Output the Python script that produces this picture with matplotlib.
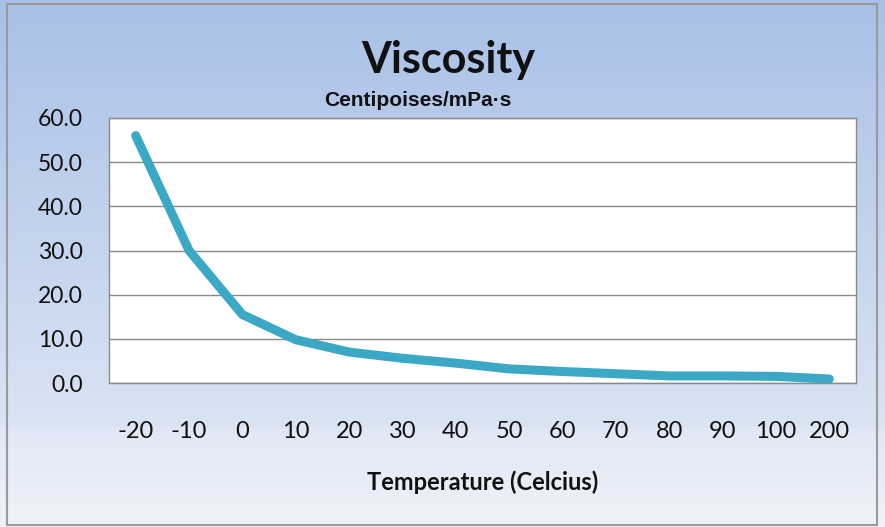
import numpy as np
import matplotlib; matplotlib.use('Agg')
import matplotlib.pyplot as plt
from matplotlib.colors import to_rgb
from matplotlib.patches import Rectangle

# ─── Data ─────────────────────────────────────────────────
temps     = ['-20', '-10', '0', '10', '20', '30', '40', '50', '60', '70', '80', '90', '100', '200']
viscosity = [56.0, 30.0, 15.5, 9.8, 7.0, 5.6, 4.5, 3.2, 2.6, 2.1, 1.6, 1.6, 1.5, 0.9]
y_ticks   = [0, 10, 20, 30, 40, 50, 60]

C = {'line': '#3ba8c6', 'grid': '#8a8a8a', 'txt': '#111111', 'frame': '#9a9a9a'}
FONT = 'Lato'

W, H = 885, 527
fig = plt.figure(figsize=(W / 100, H / 100), dpi=100)

# two-part vertical gradient background (split at ~y=428 px)
def ramp(c0, c1, n):
    a, b = np.array(to_rgb(c0)), np.array(to_rgb(c1))
    t = np.linspace(0, 1, n)[:, None]
    return a + (b - a) * t
split = 428
rows = np.vstack([ramp('#a8c0e7', '#dae4f3', split), ramp('#e1e8f5', '#eef2fa', H - split)])
img = np.repeat(rows[:, None, :], 4, axis=1)

bg = fig.add_axes([0, 0, 1, 1], zorder=0)
bg.imshow(img, aspect='auto', extent=[0, 1, 0, 1], origin='upper', interpolation='bilinear')
bg.set_xlim(0, 1); bg.set_ylim(0, 1)
bg.axis('off')
bg.add_patch(Rectangle((7/W, 2/H), 870/W, 521/H, fill=False,
                       edgecolor=C['frame'], lw=1.5, transform=bg.transAxes))

ax = fig.add_axes([109/W, 1 - 383/H, 747/W, 265/H], zorder=1)
ax.set_facecolor('white')
x = np.arange(len(temps))
ax.plot(x, viscosity, color=C['line'], lw=6.5, solid_capstyle='round',
        solid_joinstyle='round', zorder=3)

ax.set_xlim(-0.5, len(temps) - 0.5)
ax.set_ylim(0, 60)
ax.set_yticks(y_ticks)
ax.set_yticklabels([f"{v:.1f}" for v in y_ticks], fontsize=16.5, family=FONT, color=C['txt'])
ax.set_xticks(x)
ax.set_xticklabels(temps, fontsize=17, family=FONT, color=C['txt'])
ax.tick_params(axis='x', length=0, pad=27)
ax.tick_params(axis='y', length=0, pad=19)
ax.grid(axis='y', color=C['grid'], lw=1)
for s in ax.spines.values():
    s.set_color(C['grid']); s.set_linewidth(1)

fig.text(448/W, 1 - 60/H, 'Viscosity', ha='center', va='center',
         fontsize=31, fontweight='bold', family=FONT, color=C['txt'])
fig.text(418/W, 1 - 101/H, 'Centipoises/mPa·s', ha='center', va='center',
         fontsize=15, fontweight='bold', family='Liberation Sans', color=C['txt'])
fig.text(483/W, 1 - 482/H, 'Temperature (Celcius)', ha='center', va='center',
         fontsize=17, fontweight='bold', family=FONT, color=C['txt'])

plt.savefig('out.png', dpi=100)
